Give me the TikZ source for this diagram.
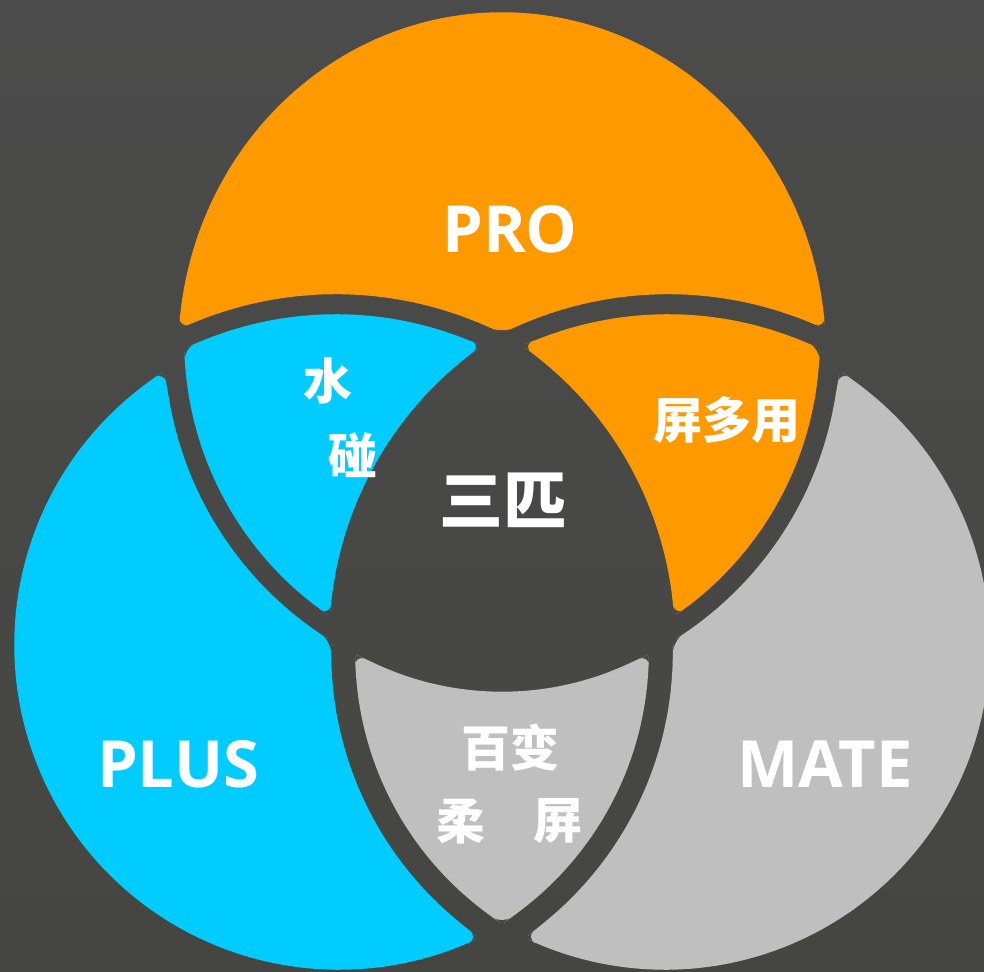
\documentclass[tikz,border=0pt]{standalone}
\usepackage{fontspec}
\setmainfont{Open Sans}
\newfontfamily\cjk{Noto Sans CJK SC}
\definecolor{bgtop}{HTML}{4B4B4B}
\definecolor{bgbot}{HTML}{454641}
\definecolor{proorange}{HTML}{FF9900}
\definecolor{pluscyan}{HTML}{00CCFF}
\definecolor{mategray}{HTML}{BFBFBF}
\begin{document}
\begin{tikzpicture}[x=1pt,y=-1pt,
    piece/.style={rounded corners=12pt},
    bigtxt/.style={text=white,font=\bfseries\fontsize{65}{70}\selectfont},
    cjktxt/.style={text=white,font=\cjk\bfseries\fontsize{49}{55}\selectfont},
    midtxt/.style={text=white,font=\cjk\bfseries\fontsize{64}{70}\selectfont}]
                \useasboundingbox (0,0) rectangle (984,971);
                \shade[top color=bgtop,bottom color=bgbot] (0,0) rectangle (984,971);

                \fill[piece,proorange] (178.8,329) -- plot[domain=186.4:353.6,samples=41] ({502+324*cos(\x)},{352+340*sin(\x)})
                    -- (825.2,329) -- plot[domain=-67.4:-114.1,samples=14] ({668+371*cos(\x)},{665+371*sin(\x)})
                    -- (502,333.2) -- plot[domain=-65.9:-112.6,samples=14] ({336+371*cos(\x)},{665+371*sin(\x)}) -- cycle;
                \fill[piece,pluscyan] (164,371) -- plot[domain=172.6:124.3,samples=13] ({517+353*cos(\x)},{341+353*sin(\x)})
                    -- (331,641) -- plot[domain=179.5:127.4,samples=14] ({678+347*cos(\x)},{653+347*sin(\x)})
                    -- (479,938) -- plot[domain=67.0:234.9,samples=40] ({339+325*cos(\x)},{645+325*sin(\x)}) -- cycle;
                \fill[piece,mategray] (840,371) -- plot[domain=7.4:55.7,samples=13] ({487+353*cos(\x)},{341+353*sin(\x)})
                    -- (673,641) -- plot[domain=0.5:52.6,samples=14] ({326+347*cos(\x)},{653+347*sin(\x)})
                    -- (525,938) -- plot[domain=113.0:-54.9,samples=40] ({665+325*cos(\x)},{645+325*sin(\x)}) -- cycle;

                \fill[piece,pluscyan] (184,348.6) -- plot[domain=-113.2:-67.9,samples=13] ({336+351*cos(\x)},{665+351*sin(\x)})
                    -- (482,345.5) -- plot[domain=-127.6:-173.7,samples=13] ({689+360*cos(\x)},{640+360*sin(\x)})
                    -- (330,616) -- plot[domain=126.7:176.2,samples=13] ({517+333*cos(\x)},{341+333*sin(\x)}) -- cycle;
                \fill[piece,proorange] (820,348.6) -- plot[domain=293.2:247.9,samples=13] ({668+351*cos(\x)},{665+351*sin(\x)})
                    -- (522,345.5) -- plot[domain=307.6:353.7,samples=13] ({315+360*cos(\x)},{640+360*sin(\x)})
                    -- (674,616) -- plot[domain=53.3:3.8,samples=13] ({487+333*cos(\x)},{341+333*sin(\x)}) -- cycle;
                \fill[piece,mategray] (355,654) -- plot[domain=116.8:63.2,samples=12] ({502+300*cos(\x)},{392+300*sin(\x)})
                    -- (649,654) -- plot[domain=2.7:54.5,samples=13] ({326+323*cos(\x)},{653+323*sin(\x)})
                    -- (502,924) -- plot[domain=125.5:177.3,samples=13] ({678+323*cos(\x)},{653+323*sin(\x)}) -- cycle;

                \node[bigtxt] (pro) at (510,229) {PRO};
                \node[bigtxt] (plus) at (178,764) {PLUS};
                \node[bigtxt] (mate) at (825,764) {MATE};
                \node[midtxt] (sanpi) at (503,500) {三匹};
                \node[cjktxt] (shui) at (328,381) {水};
                \node[cjktxt] (peng) at (353,455) {碰};
                \node[cjktxt] (pingduoyong) at (727,420) {屏多用};
                \node[cjktxt] (baibian) at (510,748) {百变};
                \node[cjktxt] (rou) at (461,821) {柔};
                \node[cjktxt] (ping) at (558,821) {屏};
            \end{tikzpicture}
\end{document}
